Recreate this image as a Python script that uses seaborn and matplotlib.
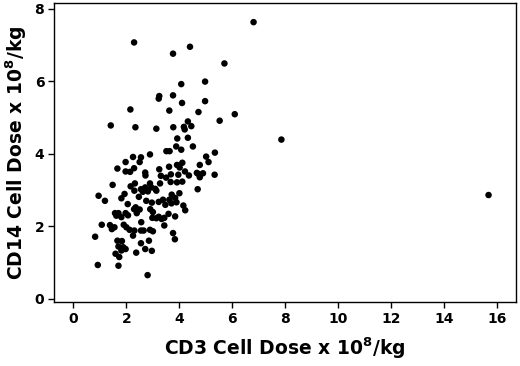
import matplotlib
matplotlib.use("Agg")
import matplotlib.pyplot as plt
import seaborn as sns
import pandas as pd

cd3 = [6.80, 2.29, 4.40, 3.76, 5.70, 4.97, 4.07, 3.24, 3.22, 3.76, 4.97, 4.10, 2.15, 3.62, 4.72,
       6.09, 5.52, 4.32, 1.41, 2.34, 3.13, 3.77, 4.17, 4.45, 4.20, 7.85, 3.92, 4.32, 4.51, 3.88,
       4.07, 3.51, 3.63, 5.34, 2.89, 2.25, 2.55, 5.01, 5.10, 2.50, 1.97, 1.66, 2.29, 2.14, 1.97,
       2.71, 3.24, 3.61, 4.01, 4.11, 3.91, 4.77, 4.21, 4.66, 4.89, 5.33, 4.36, 4.77, 4.72, 3.96,
       3.68, 3.30, 2.72, 3.50, 3.27, 3.67, 3.91, 4.11, 2.32, 2.16, 1.48, 2.71, 2.89, 2.94, 3.09,
       2.55, 2.62, 2.81, 3.13, 2.30, 4.69, 4.00, 0.95, 1.93, 2.47, 3.71, 3.84, 1.81, 1.19, 2.75,
       2.96, 3.22, 3.38, 3.62, 3.89, 3.47, 3.70, 2.05, 2.35, 4.15, 4.22, 2.29, 2.50, 2.90, 3.00,
       1.97, 1.57, 1.70, 2.39, 1.81, 1.62, 2.06, 3.59, 3.22, 3.43, 2.98, 3.13, 3.33, 3.84, 1.07,
       1.38, 1.55, 1.45, 1.90, 2.00, 2.12, 2.30, 2.56, 2.55, 2.65, 3.43, 3.00, 2.89, 2.25, 3.76,
       0.82, 1.66, 1.83, 2.85, 3.83, 2.55, 1.70, 1.88, 1.81, 1.97, 2.71, 2.96, 1.59, 1.73, 2.37,
       0.92, 1.70, 2.80, 15.67]
cd14 = [7.63, 7.07, 6.95, 6.76, 6.49, 5.99, 5.92, 5.59, 5.52, 5.61, 5.45, 5.40, 5.22, 5.19, 5.15,
        5.09, 4.91, 4.89, 4.78, 4.73, 4.69, 4.73, 4.74, 4.76, 4.67, 4.39, 4.42, 4.44, 4.20, 4.20,
        4.11, 4.07, 4.07, 4.03, 3.98, 3.91, 3.90, 3.92, 3.77, 3.77, 3.77, 3.59, 3.60, 3.50, 3.51,
        3.48, 3.57, 3.64, 3.62, 3.75, 3.69, 3.69, 3.51, 3.47, 3.46, 3.42, 3.40, 3.35, 3.44, 3.42,
        3.43, 3.39, 3.40, 3.34, 3.18, 3.22, 3.21, 3.23, 3.18, 3.10, 3.14, 3.07, 3.18, 3.07, 3.03,
        3.02, 2.95, 2.96, 2.98, 2.98, 3.02, 2.91, 2.84, 2.89, 2.81, 2.87, 2.78, 2.77, 2.70, 2.70,
        2.65, 2.67, 2.73, 2.73, 2.66, 2.59, 2.63, 2.61, 2.52, 2.57, 2.44, 2.47, 2.46, 2.47, 2.39,
        2.36, 2.36, 2.36, 2.36, 2.25, 2.29, 2.30, 2.34, 2.26, 2.23, 2.23, 2.22, 2.20, 2.27, 2.04,
        2.03, 1.97, 1.92, 2.04, 1.97, 1.90, 1.88, 2.11, 1.88, 1.88, 2.02, 1.86, 1.90, 1.74, 1.81,
        1.71, 1.60, 1.59, 1.60, 1.64, 1.53, 1.44, 1.42, 1.33, 1.37, 1.37, 1.32, 1.24, 1.15, 1.27,
        0.93, 0.91, 0.65, 2.86]

x_ticks = [0, 2, 4, 6, 8, 10, 12, 14, 16]
y_ticks = [0, 2, 4, 6, 8]
x_label = "CD3 Cell Dose x 10$^{8}$/kg"
y_label = "CD14 Cell Dose x 10$^{8}$/kg"

df = pd.DataFrame({"cd3": cd3, "cd14": cd14})

sns.set_style("ticks")
plt.rcParams["font.family"] = ["DejaVu Sans"]
plt.rcParams["font.weight"] = "bold"
plt.rcParams["mathtext.default"] = "bf"
plt.rcParams["text.color"] = "black"
plt.rcParams["axes.labelcolor"] = "black"
plt.rcParams["xtick.color"] = "black"
plt.rcParams["ytick.color"] = "black"

fig = plt.figure(figsize=(5.2, 3.66), dpi=100)
ax = fig.add_axes([0.104, 0.175, 0.888, 0.817])
sns.scatterplot(data=df, x="cd3", y="cd14", ax=ax, color="black", s=22,
                linewidth=0, edgecolor="none")

ax.set_xlim(-0.73, 16.7)
ax.set_ylim(-0.09, 8.16)
ax.set_xticks(x_ticks)
ax.set_yticks(y_ticks)
ax.set_xticklabels([str(t) for t in x_ticks], fontsize=10, fontweight="bold", color="black")
ax.set_yticklabels([str(t) for t in y_ticks], fontsize=10, fontweight="bold", color="black")
ax.set_xlabel(x_label, fontsize=13.5, fontweight="bold", labelpad=7, color="black")
ax.set_ylabel(y_label, fontsize=13.5, fontweight="bold", labelpad=4, color="black")
for sp in ax.spines.values():
    sp.set_visible(True)
    sp.set_linewidth(1.0)
    sp.set_color("black")
ax.tick_params(axis="both", direction="out", length=4, width=1, colors="black", pad=3)

fig.savefig("out.png", dpi=100)
